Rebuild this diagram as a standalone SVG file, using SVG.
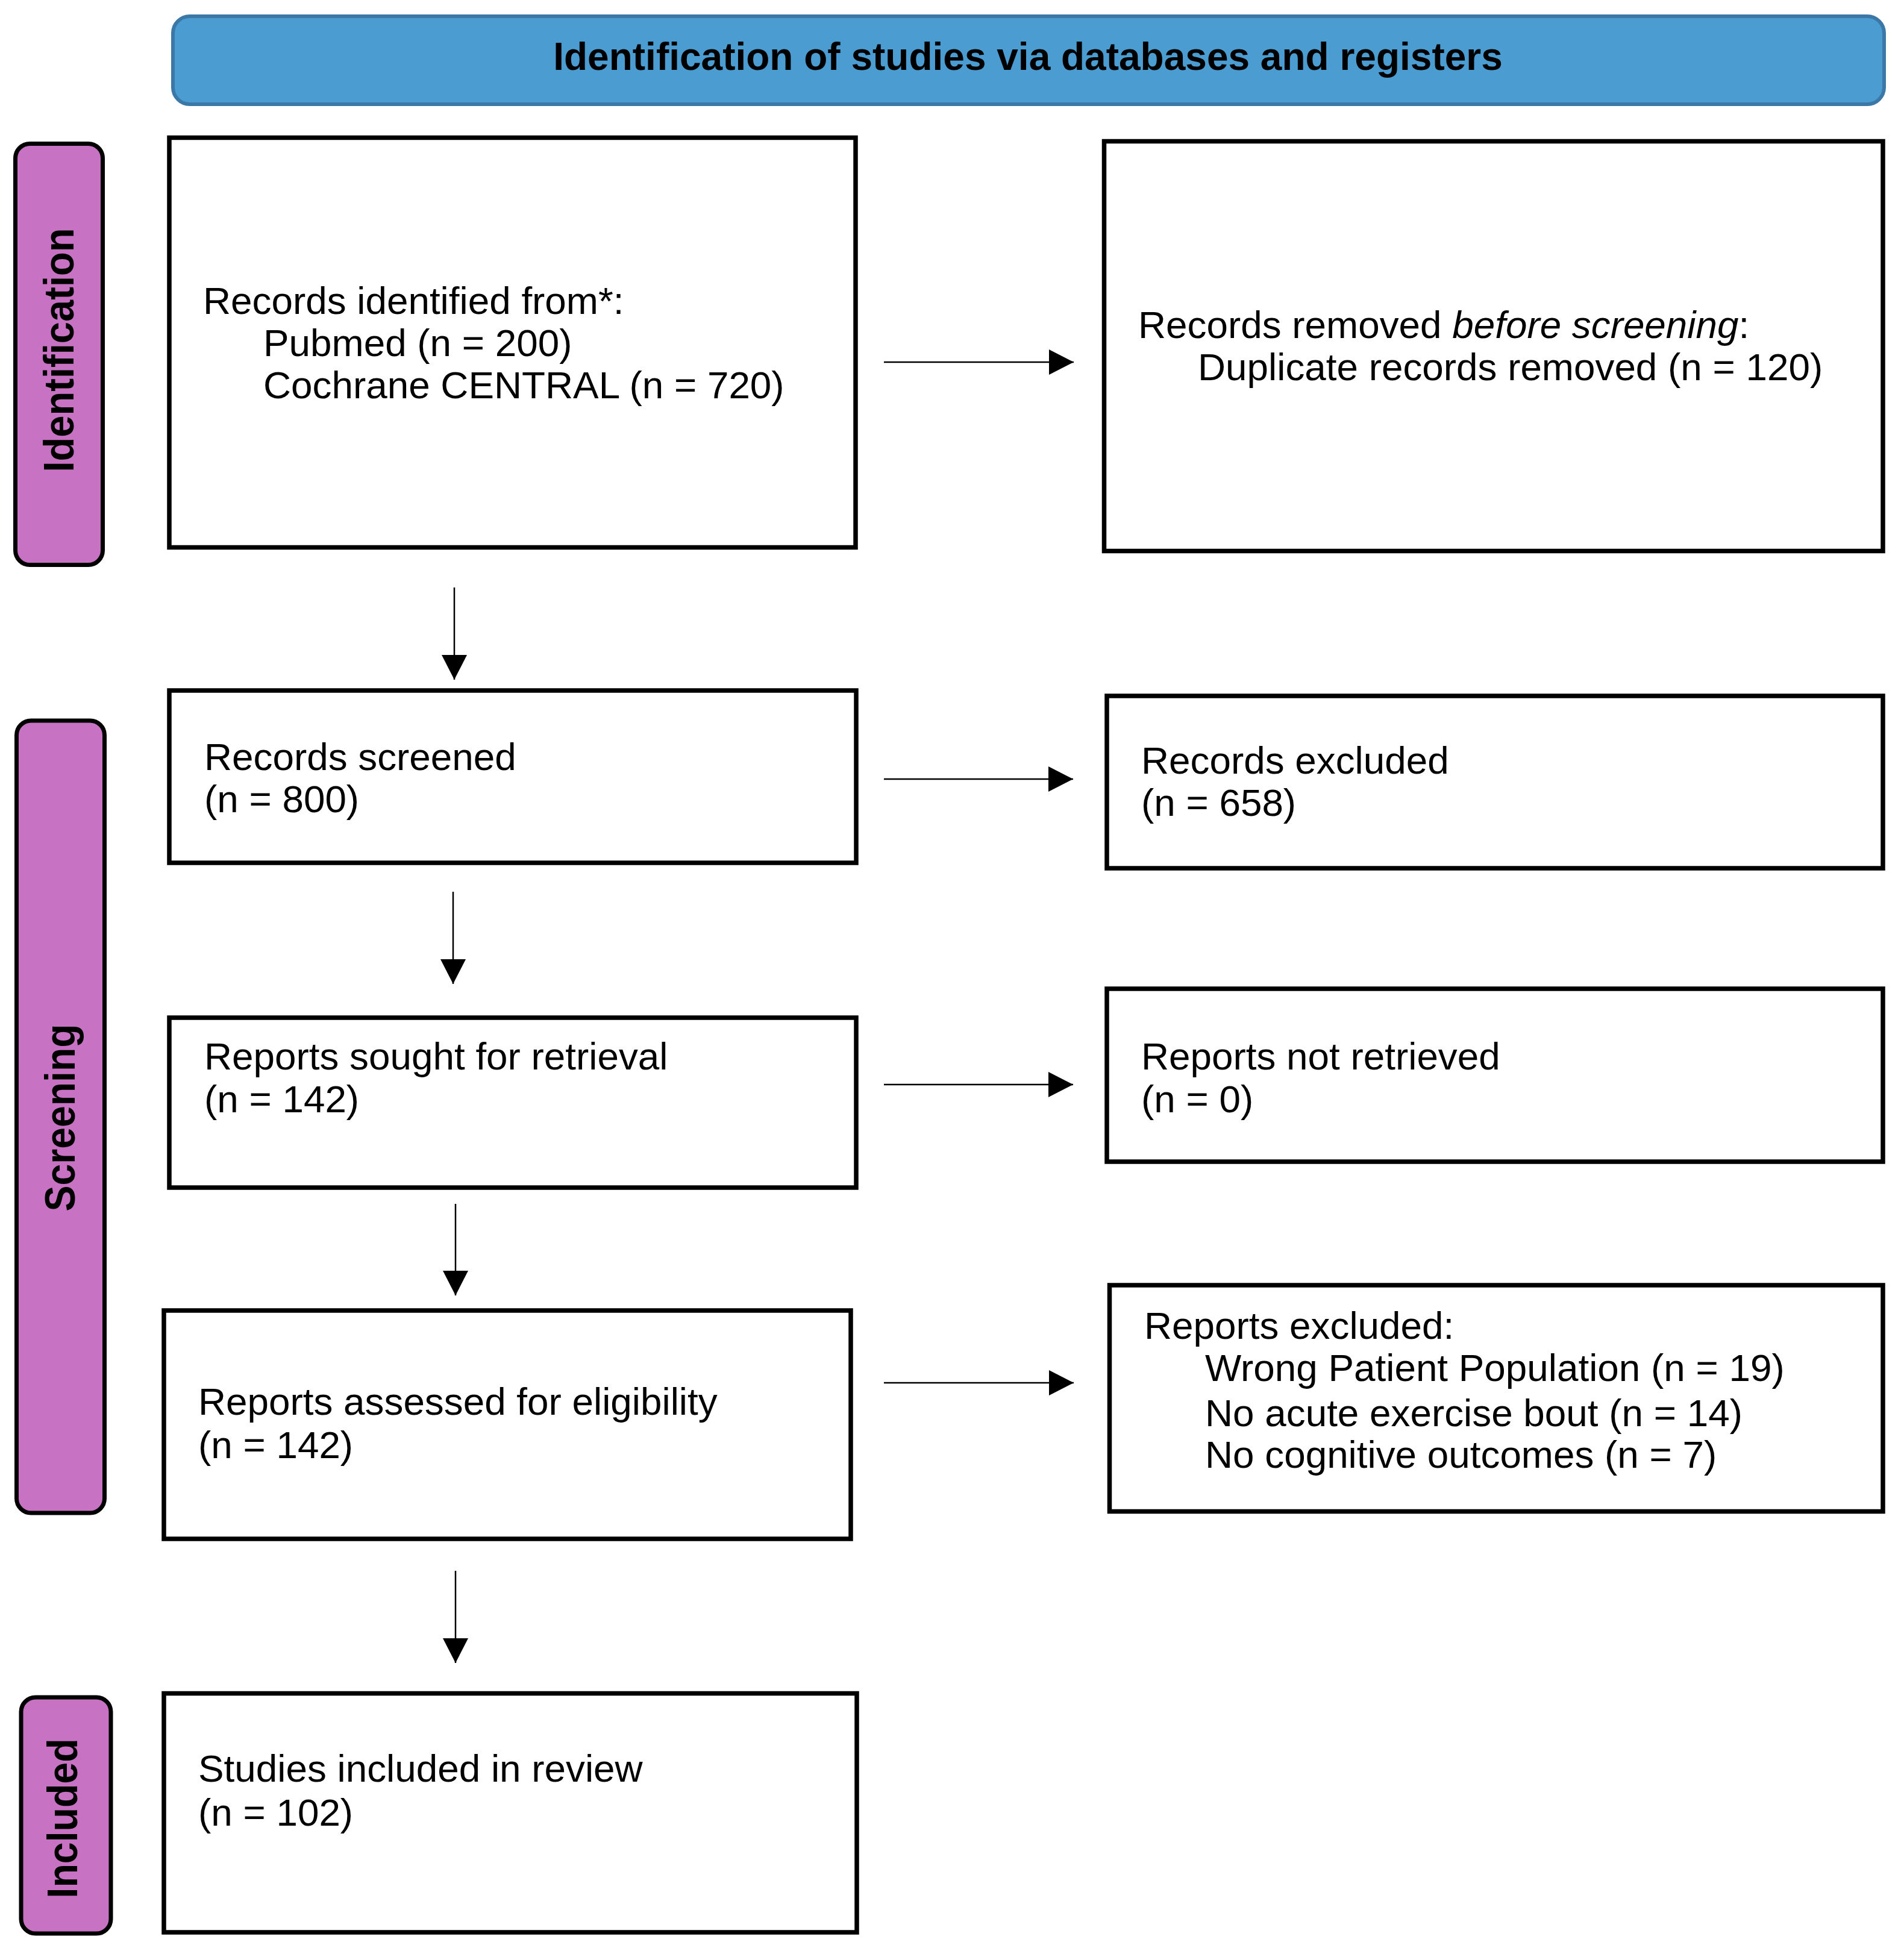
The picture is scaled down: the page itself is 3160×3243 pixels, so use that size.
<svg xmlns="http://www.w3.org/2000/svg" width="3160" height="3243" viewBox="0 0 3160 3243">
  <style>
    .box { fill: #ffffff; stroke: #000000; stroke-width: 7.5; }
    .phase { fill: #C872C3; stroke: #000000; stroke-width: 7; }
    .hdr { fill: #4A9CD1; stroke: #3B78A8; stroke-width: 6; }
    .t { font-family: "Liberation Sans", Arial, Helvetica, sans-serif; font-size: 63.8px; fill: #000000; }
    .ht { font-family: "Liberation Sans", Arial, Helvetica, sans-serif; font-size: 64px; font-weight: bold; fill: #000000; }
    .pt { font-family: "Liberation Sans", Arial, Helvetica, sans-serif; font-size: 71px; font-weight: bold; fill: #000000; }
    .conn { stroke: #000000; stroke-width: 2.5; fill: none; marker-end: url(#ah); }
  </style>
  <defs>
    <marker id="ah" viewBox="0 0 41 42" refX="41" refY="21" markerWidth="41" markerHeight="42" markerUnits="userSpaceOnUse" orient="auto">
      <path d="M0,0 L41,21 L0,42 Z" fill="#000000"/>
    </marker>
  </defs>
  <rect width="3160" height="3243" fill="#ffffff"/>

  <g id="header">
    <rect class="hdr" x="287" y="27" width="2840" height="146" rx="28" ry="28"/>
    <text class="ht" x="1706" y="116" text-anchor="middle">Identification of studies via databases and registers</text>
  </g>

  <g id="phase-identification">
    <rect class="phase" x="25.5" y="238.5" width="145" height="699" rx="24" ry="24"/>
    <text class="pt" transform="translate(122,581) rotate(-90)" text-anchor="middle" textLength="405" lengthAdjust="spacingAndGlyphs">Identification</text>
  </g>
  <g id="phase-screening">
    <rect class="phase" x="27.5" y="1196" width="146" height="1315" rx="24" ry="24"/>
    <text class="pt" transform="translate(124,1855) rotate(-90)" text-anchor="middle" textLength="311" lengthAdjust="spacingAndGlyphs">Screening</text>
  </g>
  <g id="phase-included">
    <rect class="phase" x="35" y="2817" width="149" height="392" rx="24" ry="24"/>
    <text class="pt" transform="translate(128,3018) rotate(-90)" text-anchor="middle" textLength="265" lengthAdjust="spacingAndGlyphs">Included</text>
  </g>

  <g id="records-identified">
    <rect class="box" x="281" y="228.5" width="1139" height="680"/>
    <text class="t" x="337" y="521">Records identified from*:</text>
    <text class="t" x="437" y="591">Pubmed (n = 200)</text>
    <text class="t" x="437" y="661">Cochrane CENTRAL (n = 720)</text>
  </g>
  <g id="records-removed">
    <rect class="box" x="1832.5" y="234.5" width="1292.5" height="680"/>
    <text class="t" x="1889" y="561">Records removed <tspan font-style="italic">before screening</tspan>:</text>
    <text class="t" x="1988" y="631">Duplicate records removed (n = 120)</text>
  </g>
  <g id="records-screened">
    <rect class="box" x="281" y="1146" width="1140" height="286"/>
    <text class="t" x="339" y="1278">Records screened</text>
    <text class="t" x="339" y="1348">(n = 800)</text>
  </g>
  <g id="records-excluded">
    <rect class="box" x="1837" y="1155" width="1288" height="286"/>
    <text class="t" x="1894" y="1284">Records excluded</text>
    <text class="t" x="1894" y="1354">(n = 658)</text>
  </g>
  <g id="reports-sought">
    <rect class="box" x="281" y="1689" width="1140" height="282"/>
    <text class="t" x="339" y="1775">Reports sought for retrieval</text>
    <text class="t" x="339" y="1846">(n = 142)</text>
  </g>
  <g id="reports-not-retrieved">
    <rect class="box" x="1837" y="1641" width="1288" height="287"/>
    <text class="t" x="1894" y="1775">Reports not retrieved</text>
    <text class="t" x="1894" y="1846">(n = 0)</text>
  </g>
  <g id="reports-assessed">
    <rect class="box" x="272" y="2175" width="1140" height="379"/>
    <text class="t" x="329" y="2348">Reports assessed for eligibility</text>
    <text class="t" x="329" y="2420">(n = 142)</text>
  </g>
  <g id="reports-excluded">
    <rect class="box" x="1841.5" y="2133" width="1283.5" height="375.5"/>
    <text class="t" x="1899" y="2222">Reports excluded:</text>
    <text class="t" x="2000" y="2292">Wrong Patient Population (n = 19)</text>
    <text class="t" x="2000" y="2367">No acute exercise bout (n = 14)</text>
    <text class="t" x="2000" y="2436">No cognitive outcomes (n = 7)</text>
  </g>
  <g id="studies-included">
    <rect class="box" x="272" y="2810.5" width="1150" height="396.5"/>
    <text class="t" x="329" y="2957">Studies included in review</text>
    <text class="t" x="329" y="3030">(n = 102)</text>
  </g>

  <g id="connectors">
    <line class="conn" x1="1467" y1="601" x2="1782" y2="601"/>
    <line class="conn" x1="1467" y1="1293" x2="1781" y2="1293"/>
    <line class="conn" x1="1467" y1="1800" x2="1781" y2="1800"/>
    <line class="conn" x1="1467" y1="2295" x2="1782" y2="2295"/>
    <line class="conn" x1="754" y1="975" x2="754" y2="1128"/>
    <line class="conn" x1="752" y1="1480" x2="752" y2="1633"/>
    <line class="conn" x1="756" y1="1998" x2="756" y2="2150"/>
    <line class="conn" x1="756" y1="2607" x2="756" y2="2760"/>
  </g>
</svg>
